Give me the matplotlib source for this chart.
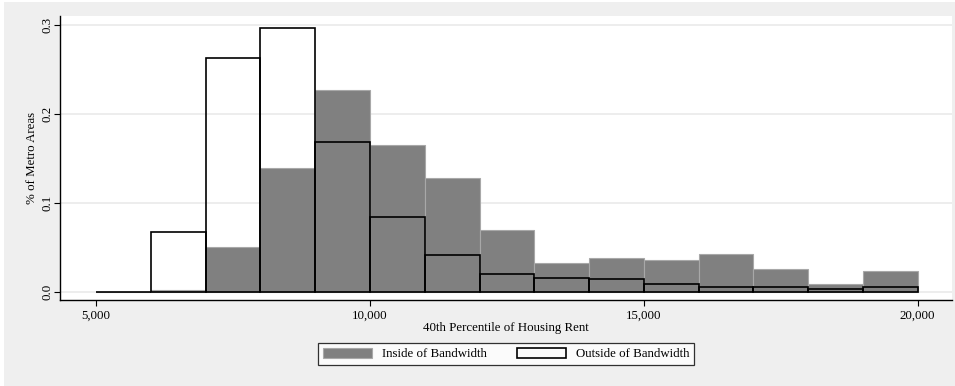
import matplotlib.pyplot as plt
import numpy as np

plt.rcParams['font.family'] = ['Liberation Serif', 'DejaVu Serif']

# bin edges of the histogram (rent)
bin_left = [5000, 6000, 7000, 8000, 9000, 10000, 11000, 12000, 13000, 14000,
            15000, 16000, 17000, 18000, 19000]
bin_width = 1000

# share of metro areas per bin
inside = [0.0, 0.002, 0.050, 0.139, 0.227, 0.165, 0.128, 0.070, 0.033, 0.038,
          0.036, 0.043, 0.026, 0.009, 0.023]
outside = [0.0, 0.067, 0.263, 0.296, 0.168, 0.084, 0.042, 0.020, 0.016, 0.015,
           0.009, 0.006, 0.005, 0.003, 0.006]

xticks = [5000, 10000, 15000, 20000]
yticks = [0.0, 0.1, 0.2, 0.3]

fs = 9.3

fig = plt.figure(figsize=(9.55, 3.86), dpi=100, facecolor='white')
# Stata-like gray graph region
fig.patches.append(plt.Rectangle((0.004, 0.0), 0.996, 0.995, transform=fig.transFigure,
                                 facecolor='#efefef', edgecolor='none', zorder=-10))
ax = fig.add_axes([0.063, 0.223, 0.934, 0.736])
ax.set_facecolor('white')

ax.bar(bin_left, inside, width=bin_width, align='edge', color='#808080',
       edgecolor='#a8a8a8', linewidth=0.8, label='Inside of Bandwidth', zorder=2)
ax.bar(bin_left, outside, width=bin_width, align='edge', facecolor='none',
       edgecolor='black', linewidth=1.2, label='Outside of Bandwidth', zorder=3)

ax.set_xlim(4342, 20630)
ax.set_ylim(-0.009, 0.31)
ax.set_xticks(xticks)
ax.set_xticklabels([f'{v:,}' for v in xticks], fontsize=fs)
ax.set_yticks(yticks)
ax.set_yticklabels([f'{v:.1f}' for v in yticks], fontsize=fs, rotation=90, va='center')
ax.grid(axis='y', color='#eaeaea', linewidth=1.2, zorder=0)
ax.set_axisbelow(True)

for s in ['top', 'right']:
    ax.spines[s].set_visible(False)
ax.spines['left'].set_linewidth(1.0)
ax.spines['bottom'].set_linewidth(1.0)
ax.tick_params(axis='x', length=4, width=0.8, pad=3)
ax.tick_params(axis='y', length=4, width=0.8, pad=1)

ax.set_xlabel('40th Percentile of Housing Rent', fontsize=fs, labelpad=0)
ax.set_ylabel('% of Metro Areas', fontsize=fs, labelpad=2)

leg = ax.legend(loc='upper center', bbox_to_anchor=(0.5, -0.138), ncol=2, fontsize=fs,
                frameon=True, fancybox=False, edgecolor='black', handlelength=3.8,
                handleheight=0.9, handletextpad=0.8, columnspacing=2.3, borderpad=0.35,
                borderaxespad=0.3)
leg.get_frame().set_linewidth(0.9)

fig.savefig('out.png', dpi=100, facecolor=fig.get_facecolor())
